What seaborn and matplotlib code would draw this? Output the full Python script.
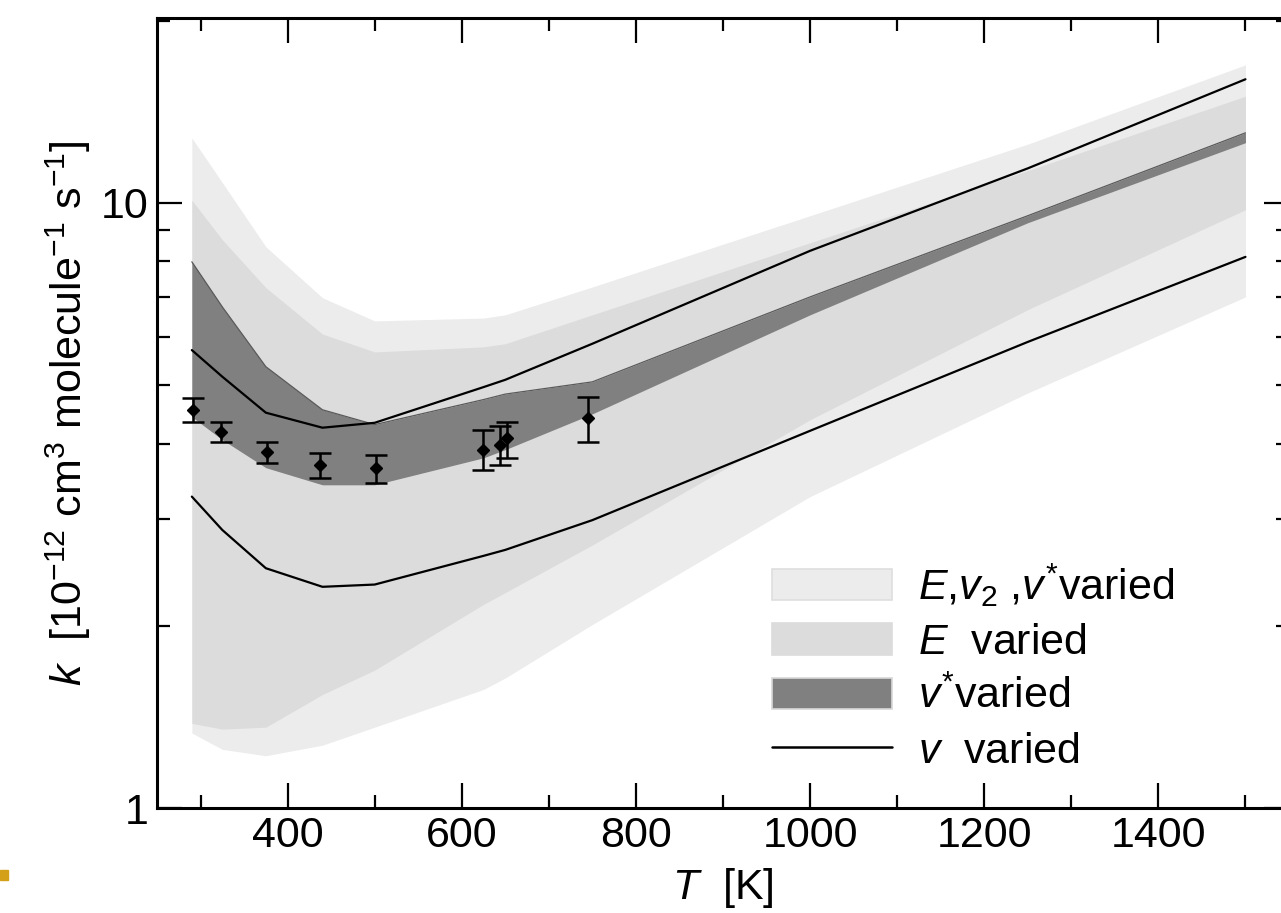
import matplotlib
matplotlib.use("Agg")
import matplotlib.pyplot as plt
import matplotlib.ticker as mticker
from matplotlib.patches import Patch, Rectangle
from matplotlib.lines import Line2D
import seaborn as sns
import pandas as pd

# ---------------- data ----------------
T_nodes = [290, 325, 375, 440, 500, 625, 650, 750, 1000, 1250, 1500]

all_hi = [12.8, 10.8, 8.46, 6.97, 6.38, 6.45, 6.53, 7.26, 9.52, 12.5, 16.9]
all_lo = [1.33, 1.25, 1.22, 1.27, 1.36, 1.57, 1.64, 2.01, 3.27, 4.85, 6.99]
E_hi = [10.1, 8.69, 7.24, 6.07, 5.67, 5.78, 5.85, 6.53, 8.59, 11.3, 15.0]
E_lo = [1.38, 1.35, 1.36, 1.54, 1.69, 2.17, 2.27, 2.72, 4.38, 6.66, 9.74]
vstar_hi = [7.99, 6.73, 5.36, 4.55, 4.30, 4.73, 4.83, 5.06, 6.99, 9.52, 13.05]
vstar_lo = [4.43, 4.06, 3.65, 3.42, 3.42, 3.79, 3.91, 4.48, 6.53, 9.27, 12.57]
v_hi = [5.71, 5.16, 4.50, 4.25, 4.33, 4.96, 5.10, 5.85, 8.33, 11.4, 16.0]
v_lo = [3.27, 2.88, 2.49, 2.32, 2.34, 2.61, 2.67, 2.99, 4.20, 5.89, 8.14]

T_exp = [291, 324, 376, 437, 502, 624, 644, 652, 745]
k_exp = [4.55, 4.18, 3.88, 3.69, 3.65, 3.91, 3.98, 4.09, 4.41]
k_up = [4.76, 4.35, 4.03, 3.86, 3.83, 4.21, 4.28, 4.35, 4.78]
k_dn = [4.35, 4.03, 3.72, 3.51, 3.44, 3.62, 3.69, 3.79, 4.03]

x_ticks = [400, 600, 800, 1000, 1200, 1400]
legend_labels = [r"$E$,$v_2$ ,$v^{*}$varied", r"$E$  varied", r"$v^{*}$varied", r"$v$  varied"]

# ---------------- style ----------------
sns.set_theme(style="ticks")
plt.rcParams["font.family"] = ["Liberation Sans", "DejaVu Sans"]
plt.rcParams["mathtext.fontset"] = "custom"
plt.rcParams["mathtext.rm"] = "Liberation Sans"
plt.rcParams["mathtext.it"] = "Liberation Sans:italic"
plt.rcParams["mathtext.bf"] = "Liberation Sans:bold"
for key in ["text.color", "axes.labelcolor", "xtick.color", "ytick.color", "axes.edgecolor"]:
    plt.rcParams[key] = "black"

FS = 31
fig = plt.figure(figsize=(12.81, 9.13), dpi=100)
ax = fig.add_axes([157 / 1281, (913 - 808) / 913, (1289 - 157) / 1281, (808 - 18) / 913])

c_all, c_E, c_vs = "#ececec", "#dcdcdc", "#808080"

ax.fill_between(T_nodes, all_lo, all_hi, color=c_all, lw=0, zorder=1)
ax.fill_between(T_nodes, E_lo, E_hi, color=c_E, lw=0, zorder=2)
ax.fill_between(T_nodes, vstar_lo, vstar_hi, color=c_vs, lw=0, zorder=3)
ax.plot(T_nodes, vstar_hi, color="#5a5a5a", lw=0.9, zorder=3.5)

df = pd.DataFrame({"T": T_nodes * 2, "k": v_hi + v_lo,
                   "which": ["hi"] * len(T_nodes) + ["lo"] * len(T_nodes)})
sns.lineplot(data=df, x="T", y="k", units="which", estimator=None,
             color="black", lw=1.6, ax=ax, zorder=4, legend=False)

yerr = [[k - d for k, d in zip(k_exp, k_dn)], [u - k for k, u in zip(k_exp, k_up)]]
ax.errorbar(T_exp, k_exp, yerr=yerr, fmt="D", color="black", ms=6,
            elinewidth=1.8, capsize=8, capthick=1.8, zorder=5)

ax.set_yscale("log")
ax.set_xlim(250, 1550)
ax.set_ylim(1, 20.2)

ax.xaxis.set_major_locator(mticker.FixedLocator(x_ticks))
ax.xaxis.set_minor_locator(mticker.MultipleLocator(200, offset=100))
ax.yaxis.set_major_locator(mticker.FixedLocator([1, 10]))
ax.yaxis.set_major_formatter(mticker.FixedFormatter(["1", "10"]))
ax.yaxis.set_minor_locator(mticker.LogLocator(base=10, subs=range(2, 10)))
ax.yaxis.set_minor_formatter(mticker.NullFormatter())

ax.tick_params(which="both", direction="in", top=True, right=True, width=1.6,
               colors="black", labelsize=FS)
ax.tick_params(which="major", length=18, pad=6)
ax.tick_params(which="minor", length=9.5)
for s in ax.spines.values():
    s.set_linewidth(2.2)
    s.set_color("black")

ax.set_xlabel(r"$T$  [K]", fontsize=FS, labelpad=7)
ax.set_ylabel(r"$k$  [10$^{-12}$ cm$^{3}$ molecule$^{-1}$ s$^{-1}$]", fontsize=FS, labelpad=6)

handles = [Patch(facecolor=c_all, edgecolor="#dedede", lw=1.2),
           Patch(facecolor=c_E, edgecolor=c_E, lw=1.2),
           Patch(facecolor=c_vs, edgecolor="#d8d8d8", lw=1.2),
           Line2D([0], [0], color="black", lw=1.8)]
ax.legend(handles, legend_labels, loc="upper left", bbox_to_anchor=(0.528, 0.334),
          frameon=False, fontsize=FS, handlelength=2.8, handleheight=0.75,
          labelspacing=0.33, handletextpad=0.6, borderaxespad=0)

fig.patches.append(Rectangle((0, (913 - 880) / 913), 8 / 1281, 10 / 913,
                             transform=fig.transFigure, color="#d4a017", zorder=10))

fig.savefig("out.png", dpi=100)
